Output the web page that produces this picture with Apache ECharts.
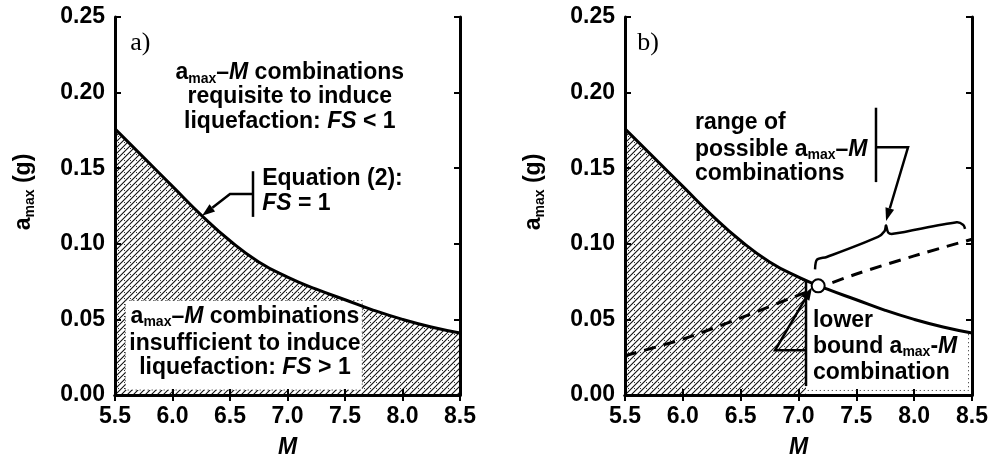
<!doctype html>
<html>
    <head>
        <meta charset="utf-8">
        <style>
            html, body { margin: 0; padding: 0; background: #fff; }
            #main { width: 991px; height: 464px; }
        </style>
    </head>
    <body>
        <div id="main"></div>
        <script src="https://cdn.jsdelivr.net/npm/echarts@6/dist/echarts.min.js"></script>
        <script>
            // FS = 1 boundary (Equation 2)
            var magnitudes = [5.5, 5.75, 6.0, 6.25, 6.5, 6.75, 7.0, 7.25, 7.5, 7.75, 8.0, 8.25, 8.5];
            var fsOneAmax = [0.176, 0.157, 0.138, 0.119, 0.102, 0.088, 0.078, 0.070, 0.063, 0.056, 0.050, 0.045, 0.041];

            // dashed line of possible amax-M combinations (panel b)
            var rangeM = [5.5, 6.0, 6.5, 7.0, 7.5, 8.0, 8.5];
            var rangeAmax = [0.026, 0.037, 0.051, 0.066, 0.080, 0.092, 0.103];

            // lower bound point
            var lowerBound = [7.17, 0.0722];

            // white (unhatched) regions: [m0, a0, m1, a1]
            var boxA = [5.59, 0.0033, 7.65, 0.0625];
            var boxB = [7.065, 0.0, 8.5, 0.12];

            var xTicks = { min: 5.5, max: 8.5, step: 0.5 };
            var yTicks = { min: 0, max: 0.25, step: 0.05 };

            var font = '"Liberation Sans", Arial, Helvetica, sans-serif';
            var chart = echarts.init(document.getElementById('main'));

            function makeHatch() {
                var c = document.createElement('canvas');
                c.width = 6; c.height = 6;
                var g = c.getContext('2d');
                g.fillStyle = '#fff';
                g.fillRect(0, 0, 6, 6);
                g.strokeStyle = '#111';
                g.lineWidth = 1.1;
                g.beginPath();
                g.moveTo(-1, 7); g.lineTo(7, -1);
                g.moveTo(-1, 1); g.lineTo(1, -1);
                g.moveTo(5, 7); g.lineTo(7, 5);
                g.stroke();
                g.fillStyle = '#333';
                g.fillRect(4, 4, 1, 1);
                return c;
            }
            var hatch = { image: makeHatch(), repeat: 'repeat' };

            function zip(a, b) {
                return a.map(function (v, i) { return [v, b[i]]; });
            }

            var rich = {
                r: { fontFamily: font, fontSize: 23, fontWeight: 'bold', lineHeight: 26, fill: '#000' },
                i: { fontFamily: font, fontSize: 23, fontWeight: 'bold', lineHeight: 26, fontStyle: 'italic', fill: '#000' },
                s: { fontFamily: font, fontSize: 14, fontWeight: 'bold', lineHeight: 14, verticalAlign: 'bottom', fill: '#000' }
            };

            function xAxes(grid) {
                return [{
                    type: 'value', gridIndex: grid, position: 'bottom', z: 10,
                    min: xTicks.min, max: xTicks.max, interval: xTicks.step,
                    axisLine: { lineStyle: { color: '#000', width: 3 } },
                    axisTick: { inside: true, length: 6, lineStyle: { color: '#000', width: 2 } },
                    axisLabel: { color: '#000', fontSize: 23, fontWeight: 'bold', fontFamily: font, margin: 10,
                        formatter: function (v) { return v.toFixed(1); } },
                    splitLine: { show: false },
                    name: 'M', nameLocation: 'middle', nameGap: 41,
                    nameTextStyle: { color: '#000', fontSize: 23, fontWeight: 'bold', fontFamily: font, fontStyle: 'italic' }
                }, {
                    type: 'value', gridIndex: grid, position: 'top', z: 10,
                    min: xTicks.min, max: xTicks.max, interval: xTicks.step,
                    axisLine: { lineStyle: { color: '#000', width: 3 } },
                    axisTick: { inside: true, length: 6, lineStyle: { color: '#000', width: 2 } },
                    axisLabel: { show: false },
                    splitLine: { show: false }
                }];
            }

            function yAxes(grid) {
                return [{
                    type: 'value', gridIndex: grid, position: 'left', z: 10,
                    min: yTicks.min, max: yTicks.max, interval: yTicks.step,
                    axisLine: { lineStyle: { color: '#000', width: 3 } },
                    axisTick: { inside: true, length: 6, lineStyle: { color: '#000', width: 2 } },
                    axisLabel: { color: '#000', fontSize: 23, fontWeight: 'bold', fontFamily: font, margin: 10,
                        formatter: function (v) { return v.toFixed(2); } },
                    splitLine: { show: false },
                    name: '{r|a}{s|max}{r| (g)}', nameLocation: 'middle', nameGap: 78,
                    nameTextStyle: { rich: rich, padding: [0, 0, 0, 28] }
                }, {
                    type: 'value', gridIndex: grid, position: 'right', z: 10,
                    min: yTicks.min, max: yTicks.max, interval: yTicks.step,
                    axisLine: { lineStyle: { color: '#000', width: 3 } },
                    axisTick: { inside: true, length: 6, lineStyle: { color: '#000', width: 2 } },
                    axisLabel: { show: false },
                    splitLine: { show: false }
                }];
            }

            function boxSeries(xi, box, outline) {
                return {
                    type: 'custom', xAxisIndex: xi, yAxisIndex: xi, z: 2, silent: true,
                    encode: { x: [0, 2], y: [1, 3] },
                    data: [box],
                    renderItem: function (params, api) {
                        var p0 = api.coord([api.value(0), api.value(3)]);
                        var p1 = api.coord([api.value(2), api.value(1)]);
                        return { type: 'rect', shape: { x: p0[0], y: p0[1], width: p1[0] - p0[0], height: p1[1] - p0[1] },
                            style: outline
                                ? { fill: '#fff', stroke: '#222', lineWidth: 1, lineDash: [1, 3] }
                                : { fill: '#fff' } };
                    }
                };
            }

            var curve = zip(magnitudes, fsOneAmax);

            chart.setOption({
                animation: false,
                grid: [
                    { left: 115, right: 531, top: 17, bottom: 67 },
                    { left: 625, right: 19, top: 17, bottom: 67 }
                ],
                xAxis: xAxes(0).concat(xAxes(1)),
                yAxis: yAxes(0).concat(yAxes(1)),
                series: [
                    // panel a
                    { type: 'line', xAxisIndex: 0, yAxisIndex: 0, z: 1, data: curve, showSymbol: false,
                      smooth: 0.5, lineStyle: { width: 0 }, areaStyle: { color: hatch, opacity: 1 } },
                    boxSeries(0, boxA, true),
                    { type: 'line', xAxisIndex: 0, yAxisIndex: 0, z: 3, data: curve, showSymbol: false,
                      smooth: 0.5, lineStyle: { color: '#000', width: 3 } },
                    // panel b
                    { type: 'line', xAxisIndex: 2, yAxisIndex: 2, z: 1, data: curve, showSymbol: false,
                      smooth: 0.5, lineStyle: { width: 0 }, areaStyle: { color: hatch, opacity: 1 } },
                    boxSeries(2, boxB, false),
                    { type: 'line', xAxisIndex: 2, yAxisIndex: 2, z: 3, data: curve, showSymbol: false,
                      smooth: 0.5, lineStyle: { color: '#000', width: 3 } },
                    { type: 'line', xAxisIndex: 2, yAxisIndex: 2, z: 3, data: zip(rangeM, rangeAmax), showSymbol: false,
                      smooth: 0.3, lineStyle: { color: '#000', width: 3, type: [12, 8] } },
                    { type: 'scatter', xAxisIndex: 2, yAxisIndex: 2, z: 5, data: [lowerBound], symbolSize: 13,
                      itemStyle: { color: '#fff', borderColor: '#000', borderWidth: 2, opacity: 1 } }
                ]
            });

            // annotations, positioned in data coordinates
            var textsA = [
                { at: [5.72, 0.233], text: 'a)', serif: true },
                { at: [7.02, 0.2132], text: '{r|a}{s|max}{r|–}{i|M}{r| combinations}', align: 'center' },
                { at: [7.02, 0.1974], text: '{r|requisite to induce}', align: 'center' },
                { at: [7.02, 0.1810], text: '{r|liquefaction: }{i|FS}{r| < 1}', align: 'center' },
                { at: [6.78, 0.1428], text: '{r|Equation (2):}' },
                { at: [6.78, 0.1263], text: '{i|FS}{r| = 1}' },
                { at: [6.63, 0.0520], text: '{r|a}{s|max}{r|–}{i|M}{r| combinations}', align: 'center' },
                { at: [6.63, 0.0342], text: '{r|insufficient to induce}', align: 'center' },
                { at: [6.63, 0.0178], text: '{r|liquefaction: }{i|FS}{r| > 1}', align: 'center' }
            ];
            var textsB = [
                { at: [5.70, 0.233], text: 'b)', serif: true },
                { at: [6.105, 0.1803], text: '{r|range of}' },
                { at: [6.105, 0.1625], text: '{r|possible a}{s|max}{r|–}{i|M}' },
                { at: [6.105, 0.1461], text: '{r|combinations}' },
                { at: [7.125, 0.0494], text: '{r|lower}' },
                { at: [7.125, 0.0322], text: '{r|bound a}{s|max}{r|-}{i|M}' },
                { at: [7.125, 0.0145], text: '{r|combination}' }
            ];
            var barsA = [[[6.70, 0.148], [6.70, 0.1178]]];
            var arrowsA = [[[6.70, 0.1329], [6.50, 0.1329], [6.257, 0.1185]]];
            var barsB = [[[7.67, 0.190], [7.67, 0.1408]], [[7.065, 0.075], [7.065, 0.0059]]];
            var arrowsB = [
                [[7.67, 0.1638], [7.947, 0.1638], [7.757, 0.1151]],
                [[7.065, 0.0296], [6.797, 0.0296], [7.117, 0.0712]]
            ];
            var brace = [[7.143, 0.0831], [7.16, 0.0895], [7.244, 0.0913], [7.687, 0.1046], [7.745, 0.1085],
                [7.757, 0.1121], [7.775, 0.1075], [7.817, 0.1066], [8.368, 0.1143], [8.425, 0.1125], [8.44, 0.1099]];
            var dotsB = [[7.08, 0.003], [8.47, 0.003], [8.47, 0.042]];

            var graphics = [];
            function px(xi, p) {
                return chart.convertToPixel({ xAxisIndex: xi, yAxisIndex: xi }, p);
            }
            function addTexts(xi, list) {
                list.forEach(function (t) {
                    var p = px(xi, t.at);
                    var style = t.serif
                        ? { text: t.text, font: '26px "Liberation Serif", "Times New Roman", serif', fill: '#000' }
                        : { text: t.text, rich: rich, fill: '#000' };
                    style.align = t.align || (t.serif ? 'center' : 'left');
                    style.verticalAlign = 'middle';
                    graphics.push({ type: 'text', x: p[0], y: p[1], z: 20, style: style, silent: true });
                });
            }
            function addLine(xi, pts, extra) {
                var style = { stroke: '#000', lineWidth: 2.5, fill: null };
                for (var k in extra) style[k] = extra[k];
                graphics.push({ type: 'polyline', z: 20, silent: true,
                    shape: { points: pts.map(function (p) { return px(xi, p); }), smooth: style.smooth || 0 },
                    style: style });
            }
            function addArrows(xi, list) {
                list.forEach(function (pts) {
                    var pp = pts.map(function (p) { return px(xi, p); });
                    var n = pp.length, a = pp[n - 2], b = pp[n - 1];
                    var ang = Math.atan2(b[1] - a[1], b[0] - a[0]);
                    var L = 13, W = 4.5;
                    var base = [b[0] - L * Math.cos(ang), b[1] - L * Math.sin(ang)];
                    var left = [base[0] + W * Math.sin(ang), base[1] - W * Math.cos(ang)];
                    var right = [base[0] - W * Math.sin(ang), base[1] + W * Math.cos(ang)];
                    graphics.push({ type: 'polyline', z: 20, silent: true,
                        shape: { points: pp.slice(0, n - 1).concat([base]) },
                        style: { stroke: '#000', lineWidth: 2.5, fill: null, lineJoin: 'miter' } });
                    graphics.push({ type: 'polygon', z: 20, silent: true,
                        shape: { points: [b, left, right] }, style: { fill: '#000' } });
                });
            }

            addTexts(0, textsA);
            barsA.forEach(function (b) { addLine(0, b); });
            addArrows(0, arrowsA);
            addTexts(2, textsB);
            barsB.forEach(function (b) { addLine(2, b); });
            addArrows(2, arrowsB);
            addLine(2, brace, { smooth: 0.3 });
            addLine(2, dotsB, { lineWidth: 1, lineDash: [1, 3], stroke: '#222' });

            chart.setOption({ graphic: graphics });

            window.onresize = chart.resize;
        </script>
    </body>
</html>
